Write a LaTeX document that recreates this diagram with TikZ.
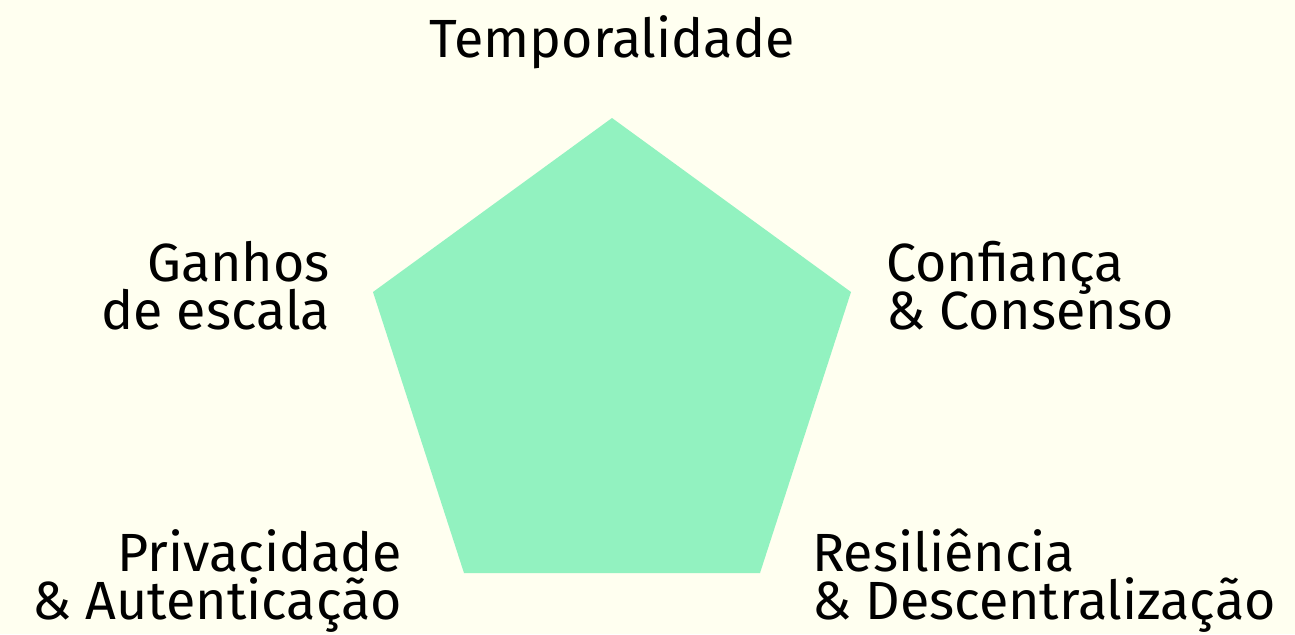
\documentclass[tikz,border=0pt]{standalone}
\usepackage{fontspec}
\setmainfont{Fira Sans}
\usepackage{tikz}

\definecolor{bgcream}{HTML}{FFFFF0}
\definecolor{pentgreen}{HTML}{92F2C0}
\newcommand{\lblfont}{\fontsize{15.3}{13.4}\selectfont\lineskiplimit=-20pt}

\tikzset{
  lbl/.style={inner sep=0pt, outer sep=0pt, font=\lblfont},
  pent/.style={fill=pentgreen, draw=none}
}

\begin{document}
\begin{tikzpicture}
    \fill[bgcream] (0,0) rectangle (12.95,-6.34);
    \useasboundingbox (0,0) rectangle (12.95,-6.34);
    %
    \fill[pent] (6.12,-1.18) -- (8.51,-2.92) -- (7.60,-5.73) -- (4.64,-5.73) -- (3.73,-2.92) -- cycle;
    %
    \node (top) [lbl, anchor=base] at (6.12,-0.57) {Temporalidade};
    \node (left) [lbl, anchor=base east, align=right] at (3.30,-3.29) {Ganhos\\de escala};
    \node (right) [lbl, anchor=base west, align=left] at (8.86,-3.29) {Confiança\\\& Consenso};
    \node (botleft) [lbl, anchor=base east, align=right] at (4.02,-6.19) {Privacidade\\\& Autenticação};
    \node (botright) [lbl, anchor=base west, align=left] at (8.12,-6.19) {Resiliência\\\& Descentralização};
\end{tikzpicture}
\end{document}
